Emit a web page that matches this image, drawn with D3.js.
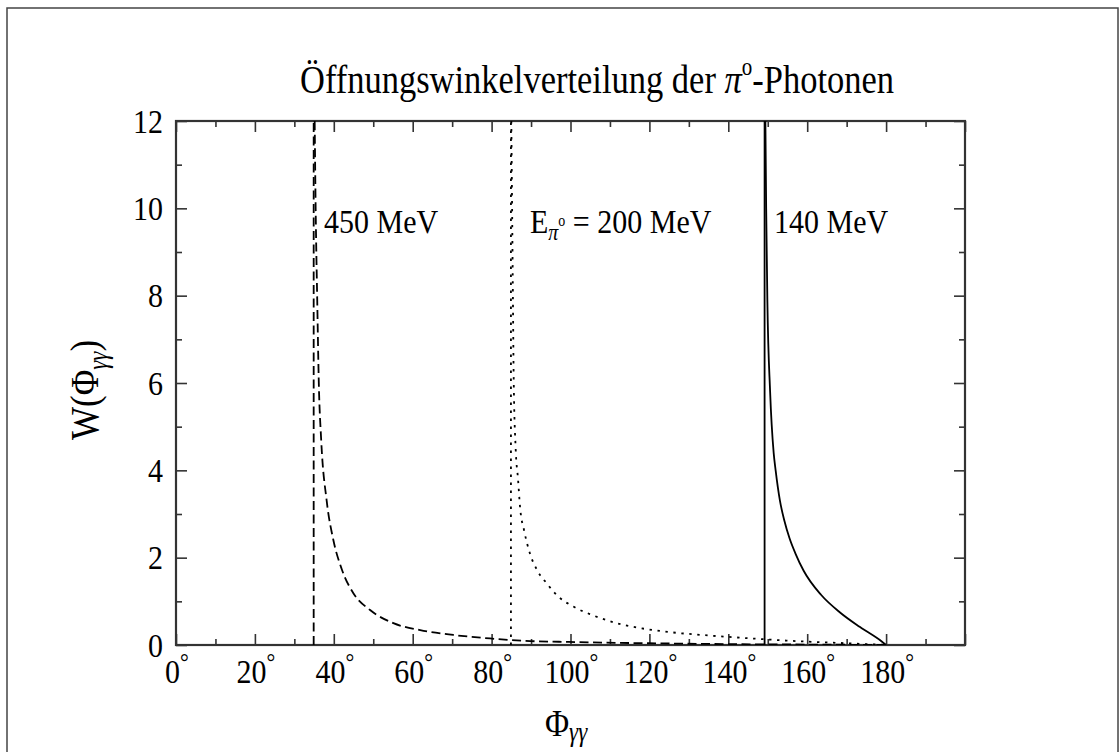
<!DOCTYPE html>
<html><head><meta charset="utf-8">
<script src="https://cdn.jsdelivr.net/npm/d3@7"></script>
<style>
body{margin:0;background:#fff}
text{font-family:"Liberation Serif","Times New Roman",serif;fill:#000}
</style>
</head><body>
<svg id="c" width="1120" height="752"></svg>
<script>
// ---- data ----
const xTickValues = [0,20,40,60,80,100,120,140,160,180];
const yTickValues = [0,2,4,6,8,10,12];
const energies = ["450 MeV","200 MeV","140 MeV"];
const minAngles = [34.9, 84.9, 149.2];   // threshold angles (vertical lines)
const angles450 = [35.15,35.4,35.8,36.2,36.8,38.2,39.9,42.0,45.0,49.2,55.1,61.9,70.3,79.6,89.8,99.5,119.8,140,160,180];
const values450 = [12,10,7.9,6.0,4.7,3.3,2.4,1.74,1.18,0.80,0.50,0.34,0.23,0.15,0.09,0.07,0.04,0.02,0.01,0];
const angles200 = [85.0,85.2,85.4,85.6,86.1,86.7,87.2,88.3,89.7,91.5,94.0,96.9,100.7,105.4,111.3,118.1,125.7,133.3,140.9,147.6,155,162,170,180];
const values200 = [12,10,8,6.1,4.5,3.8,3.17,2.6,2.1,1.72,1.41,1.11,0.88,0.69,0.51,0.38,0.29,0.23,0.18,0.14,0.10,0.07,0.04,0];
const angles140 = [149.4,149.6,149.9,150.6,151.5,152.0,153.1,154.2,155.5,157.0,159.1,163.5,168.4,173.4,178.9,180];
const values140 = [12,10,7.9,5.8,4.4,4.0,3.3,2.85,2.45,2.1,1.7,1.15,0.74,0.41,0.08,0];

const svg = d3.select("#c");
const x = d3.scaleLinear().domain([0,200]).range([176,965]);
const y = d3.scaleLinear().domain([0,12]).range([645,121]);
const SY = 1.15; // vertical stretch of the lettering

function T(px,py,size,anchor,rot){
  return svg.append("text")
    .attr("transform",`translate(${px},${py})${rot?` rotate(${rot})`:""} scale(1,${SY})`)
    .attr("font-size",size).attr("text-anchor",anchor||"start");
}

// outer frame
svg.append("rect").attr("x",7).attr("y",8).attr("width",1111).attr("height",760)
  .attr("fill","none").attr("stroke","#444").attr("stroke-width",1.5);

// clip
svg.append("clipPath").attr("id","pc").append("rect")
  .attr("x",x(0)).attr("y",y(12)).attr("width",x(200)-x(0)).attr("height",y(0)-y(12));

const axColor="#333";
function styleAxis(g){
  g.select(".domain").remove();
  g.selectAll("line").attr("stroke",axColor).attr("stroke-width",1.6);
  g.selectAll("text").remove();
}
const xMajor = d3.range(0,201,20), xMinor = d3.range(10,200,20);
const yMajor = d3.range(0,13,2), yMinor = d3.range(1,12,2);

svg.append("g").attr("transform",`translate(0,${y(0)})`).call(d3.axisBottom(x).tickValues(xMajor).tickSize(-11)).call(styleAxis);
svg.append("g").attr("transform",`translate(0,${y(0)})`).call(d3.axisBottom(x).tickValues(xMinor).tickSize(-6)).call(styleAxis);
svg.append("g").attr("transform",`translate(0,${y(12)})`).call(d3.axisTop(x).tickValues(xMajor).tickSize(-11)).call(styleAxis);
svg.append("g").attr("transform",`translate(0,${y(12)})`).call(d3.axisTop(x).tickValues(xMinor).tickSize(-6)).call(styleAxis);
svg.append("g").attr("transform",`translate(${x(0)},0)`).call(d3.axisLeft(y).tickValues(yMajor).tickSize(-11)).call(styleAxis);
svg.append("g").attr("transform",`translate(${x(0)},0)`).call(d3.axisLeft(y).tickValues(yMinor).tickSize(-6)).call(styleAxis);
svg.append("g").attr("transform",`translate(${x(200)},0)`).call(d3.axisRight(y).tickValues(yMajor).tickSize(-11)).call(styleAxis);
svg.append("g").attr("transform",`translate(${x(200)},0)`).call(d3.axisRight(y).tickValues(yMinor).tickSize(-6)).call(styleAxis);

// plot frame
svg.append("rect").attr("x",x(0)).attr("y",y(12)).attr("width",x(200)-x(0)).attr("height",y(0)-y(12))
  .attr("fill","none").attr("stroke",axColor).attr("stroke-width",2.2);

// tick labels
xTickValues.forEach(v=>{
  const t = T(x(v)+1,683,30,"middle");
  t.append("tspan").text(v);
  t.append("tspan").attr("font-size",22).attr("dy",-11).text("°");
});
yTickValues.forEach(v=>{
  T(163,y(v)+11.5,30,"end").text(v);
});

// curves
const line = d3.line().x(d=>x(d[0])).y(d=>y(d[1])).curve(d3.curveMonotoneX);
const series = [
  {a:angles450, v:values450, dash:"9,4.5"},
  {a:angles200, v:values200, dash:"2.4,5.6"},
  {a:angles140, v:values140, dash:null}
];
const gp = svg.append("g").attr("clip-path","url(#pc)");
series.forEach((s,i)=>{
  const pts = s.a.map((a,j)=>[a,s.v[j]]);
  gp.append("path").attr("d",line(pts)).attr("fill","none").attr("stroke","#000")
    .attr("stroke-width",1.8).attr("stroke-dasharray",s.dash);
  gp.append("line").attr("x1",x(minAngles[i])).attr("x2",x(minAngles[i]))
    .attr("y1",y(0)).attr("y2",y(12)).attr("stroke","#000").attr("stroke-width",1.8)
    .attr("stroke-dasharray",s.dash);
});

// title
const title = T(597,93,34.5,"middle");
title.append("tspan").text("Öffnungswinkelverteilung der ");
title.append("tspan").attr("font-style","italic").text("π");
title.append("tspan").attr("font-size",21).attr("dy",-16).text("o");
title.append("tspan").attr("dy",16).text("-Photonen");

// energy labels
T(324,233,30).text(energies[0]);
const e2 = T(530,233,30);
e2.append("tspan").text("E");
e2.append("tspan").attr("font-size",20).attr("font-style","italic").attr("dy",6).text("π");
e2.append("tspan").attr("font-size",14).attr("dy",-12).text("o");
e2.append("tspan").attr("dy",6).text(" = " + energies[1]);
T(774,233,30).text(energies[2]);

// axis titles
const xl = T(545,736,33);
xl.append("tspan").text("Φ");
xl.append("tspan").attr("font-size",23).attr("font-style","italic").attr("dy",4).text("γγ");

const yl = T(98,440,35,"start",-90);
yl.append("tspan").text("W(Φ");
yl.append("tspan").attr("font-size",23).attr("font-style","italic").attr("dy",8).text("γγ");
yl.append("tspan").attr("dy",-8).text(")");
</script>
</body></html>
